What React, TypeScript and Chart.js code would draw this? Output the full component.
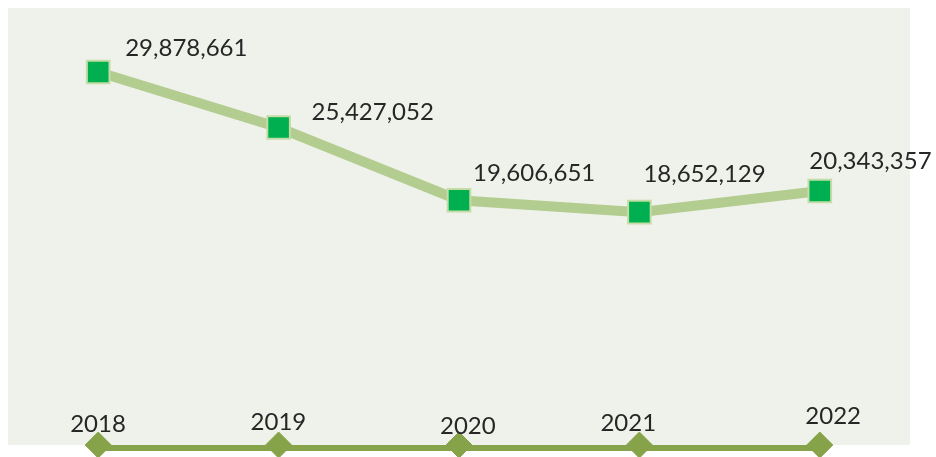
import React, { useEffect, useRef } from "react";
import { Chart, registerables } from "chart.js";

Chart.register(...registerables);

const years = ["2018", "2019", "2020", "2021", "2022"];
const totals = [29878661, 25427052, 19606651, 18652129, 20343357];
const baseline = [0, 0, 0, 0, 0];

const valueLabelOffsets: [number, number][] = [
  [27, -16],
  [33, -7.5],
  [14, -19],
  [4, -30.5],
  [-10.5, -21.5],
];
const yearLabelOffsets: [number, number][] = [
  [-28, -13.5],
  [-28, -15],
  [-19, -11.5],
  [-39, -14],
  [-14.5, -21],
];

const fmt = (v: number) => v.toLocaleString("en-US");

const panelPlugin = {
  id: "panel",
  beforeDraw(chart: any) {
    const { ctx, chartArea } = chart;
    ctx.save();
    ctx.fillStyle = "#EFF2EA";
    ctx.fillRect(chartArea.left, chartArea.top, chartArea.right - chartArea.left, chartArea.bottom - chartArea.top);
    ctx.restore();
  },
  beforeDatasetDraw(chart: any, args: any) {
    if (args.index === 2) {
      chart.ctx.save();
      chart.ctx.translate(0, 3);
    }
  },
  afterDatasetDraw(chart: any, args: any) {
    if (args.index === 2) {
      chart.ctx.restore();
    }
  },
  afterDatasetsDraw(chart: any) {
    const { ctx } = chart;
    ctx.save();
    ctx.font = "24px Lato";
    ctx.fillStyle = "#262626";
    ctx.textAlign = "left";
    ctx.textBaseline = "alphabetic";
    const m0 = chart.getDatasetMeta(0);
    m0.data.forEach((el: any, i: number) => {
      const o = valueLabelOffsets[i];
      ctx.fillText(fmt(totals[i]), el.x + o[0], el.y + o[1]);
    });
    const m1 = chart.getDatasetMeta(1);
    m1.data.forEach((el: any, i: number) => {
      const o = yearLabelOffsets[i];
      ctx.fillText(years[i], el.x + o[0], el.y + o[1]);
    });
    ctx.restore();
  },
};

export default function App() {
  const ref = useRef<HTMLCanvasElement>(null);
  useEffect(() => {
    if (!ref.current) return;
    const chart = new Chart(ref.current, {
      type: "line",
      data: {
        labels: years,
        datasets: [
          {
            data: totals,
            borderColor: "#B3CC8F",
            borderWidth: 10,
            pointStyle: "rect",
            pointRadius: 16,
            pointHoverRadius: 16,
            pointBackgroundColor: "#00B050",
            pointBorderColor: "#C4DCA6",
            pointBorderWidth: 2,
            tension: 0,
            clip: false,
            order: 0,
          },
          {
            data: baseline,
            showLine: false,
            pointStyle: "rectRot",
            pointRadius: 13,
            pointHoverRadius: 13,
            pointBackgroundColor: "#86A34A",
            pointBorderColor: "#86A34A",
            pointBorderWidth: 1,
            clip: false,
            order: 1,
          },
          {
            data: baseline,
            borderColor: "#86A34A",
            borderWidth: 6,
            pointRadius: 0,
            pointHoverRadius: 0,
            clip: false,
            order: 2,
          },
        ],
      },
      options: {
        animation: false,
        responsive: true,
        maintainAspectRatio: false,
        layout: { autoPadding: false, padding: { left: 8, right: 26, top: 8, bottom: 0 } },
        plugins: { legend: { display: false }, tooltip: { enabled: false } },
        events: [],
        scales: {
          x: {
            type: "category",
            offset: true,
            grid: { display: false },
            border: { display: false },
            ticks: { display: false },
            afterFit: (s: any) => {
              s.height = 12;
            },
          },
          y: {
            display: false,
            min: 0,
            max: 35000000,
          },
        },
      },
      plugins: [panelPlugin],
    });
    return () => chart.destroy();
  }, []);
  return (
    <div style={{ position: "fixed", left: 0, top: 0, width: 936, height: 457 }}>
      <canvas ref={ref} />
    </div>
  );
}
